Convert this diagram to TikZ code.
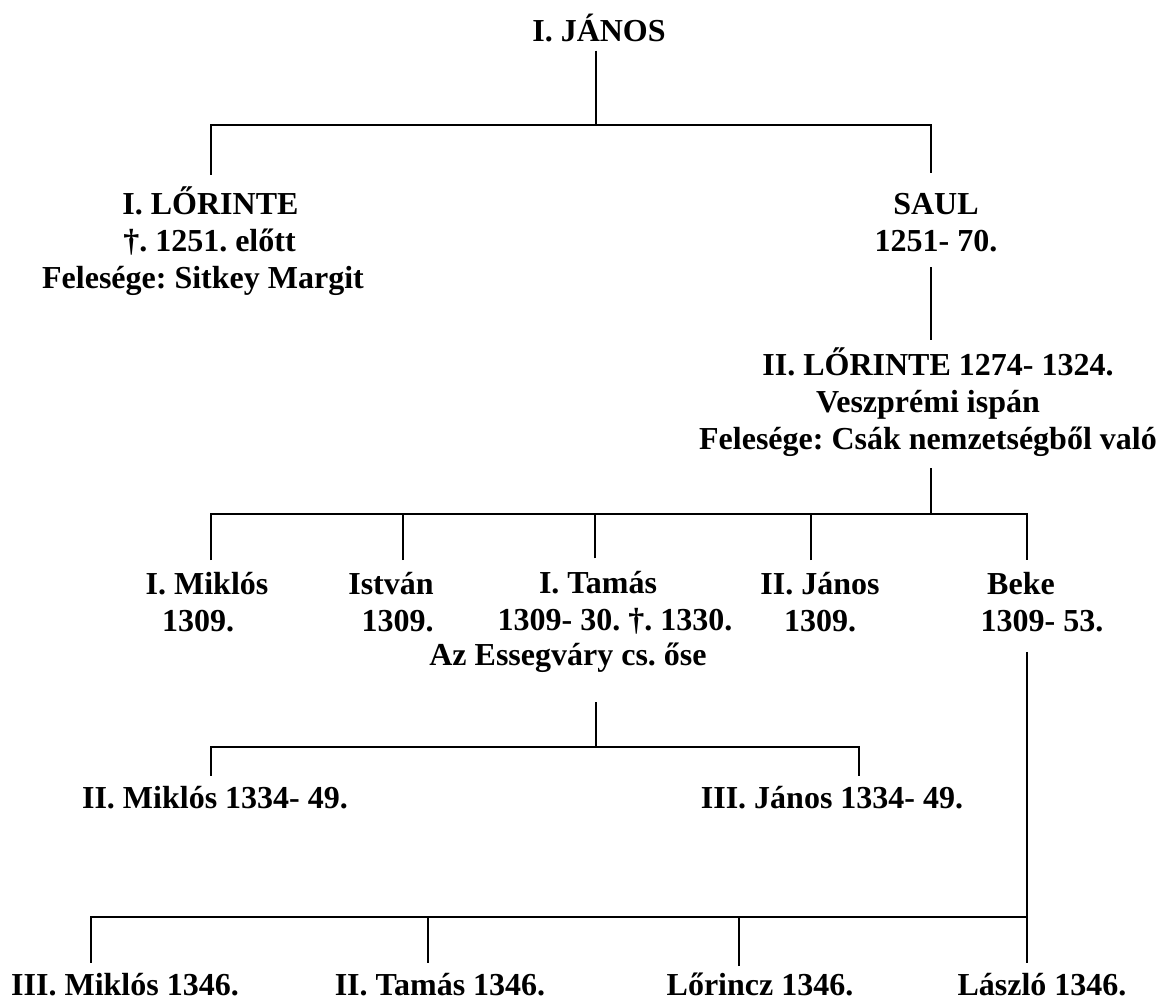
\documentclass[tikz,border=0pt]{standalone}
\usepackage{fontspec}
\setmainfont{Liberation Serif}
\usetikzlibrary{positioning}
\frenchspacing

\begin{document}
\begin{tikzpicture}[x=1pt,y=-1pt,
  person/.style={font=\fontsize{32}{36.8}\selectfont\bfseries, align=center, inner sep=0pt},
  line/.style={line width=1.4pt}]
  \useasboundingbox (0,0) rectangle (1160,1003);
  % rails of the tree
  \coordinate (r1) at (596,125);
  \coordinate (r2) at (595,514);
  \coordinate (r3) at (596,747);
  \coordinate (r4) at (596,917);

  \node[person, anchor=base] (janos1) at (599,42) {I. JÁNOS};
  \node[person] (lor1) at (203,241) {\hspace*{15pt}I. LŐRINTE\\\hspace*{13pt}†. 1251. előtt\\Felesége: Sitkey Margit};
  \node[person] (saul) at (936,223) {SAUL\\1251- 70.};
  \node[person] (lor2) at (928,402) {\hspace*{20pt}II. LŐRINTE 1274- 1324.\\Veszprémi ispán\\Felesége: Csák nemzetségből való};

  \node[person] (mik1) at (207,602) {I. Miklós\\1309.\hspace*{18pt}};
  \node[person, align=right] (istvan) at (391,602) {István\\1309.};
  \node[person] (tamas1) at (615,603) {I. Tamás\hspace*{34pt}\\1309- 30. †. 1330.};
  \node[person, anchor=base] (ose) at (568,665) {Az Essegváry cs. őse};
  \node[person] (janos2) at (820,602) {II. János\\1309.};
  \node[person] (beke) at (1042,602) {Beke\hspace*{42pt}\\1309- 53.};

  \node[person, anchor=base] (mik2) at (215,808) {II. Miklós 1334- 49.};
  \node[person, anchor=base] (janos3) at (832,808) {III. János 1334- 49.};

  \node[person, anchor=base] (mik3) at (125,995) {III. Miklós 1346.};
  \node[person, anchor=base] (tamas2) at (440,995) {II. Tamás 1346.};
  \node[person, anchor=base] (lorincz) at (760,995) {Lőrincz 1346.};
  \node[person, anchor=base] (laszlo) at (1042,995) {László 1346.};

  % I. János and his sons
  \draw[line, shorten <=8pt] ([xshift=-3pt]janos1.south) -- ([xshift=-3pt]janos1.south |- r1);
  \draw[line, shorten <=12pt, shorten >=21pt] ([xshift=8pt]lor1.north) |- (r1) -| ([xshift=-5pt]saul.north);
  \draw[line, shorten <=15pt, shorten >=8pt] ([xshift=-5pt]saul.south) -- ([xshift=-5pt]saul.south |- lor2.north);

  % II. Lőrinte and his sons
  \draw[line, shorten <=12pt] ([xshift=3pt]lor2.south) -- ([xshift=3pt]lor2.south |- r2);
  \draw[line, shorten <=12pt, shorten >=12pt] ([xshift=4pt]mik1.north) |- (r2) -| ([xshift=-15pt]beke.north);
  \draw[line, shorten <=12pt] ([xshift=12pt]istvan.north) -- ([xshift=12pt]istvan.north |- r2);
  \draw[line, shorten <=13pt] (tamas1.north -| r2) -- (r2);
  \draw[line, shorten <=12pt] ([xshift=-9pt]janos2.north) -- ([xshift=-9pt]janos2.north |- r2);

  % I. Tamás and his sons
  \draw[line, shorten <=30pt, shorten >=10pt] (ose.south -| r3) |- (r3) -| ([xshift=-4pt]mik2.north);
  \draw[line, shorten >=10pt] (r3) -| ([xshift=27pt]janos3.north);

  % Beke and his sons
  \draw[line, shorten <=20pt] ([xshift=-15pt]beke.south) -- ([xshift=-15pt]beke.south |- r4);
  \draw[line, shorten <=10pt, shorten >=10pt] ([xshift=-34pt]mik3.north) |- (r4) -| ([xshift=-15pt]laszlo.north);
  \draw[line, shorten <=10pt] ([xshift=-12pt]tamas2.north) -- ([xshift=-12pt]tamas2.north |- r4);
  \draw[line, shorten <=6pt] ([xshift=-21pt]lorincz.north) -- ([xshift=-21pt]lorincz.north |- r4);
\end{tikzpicture}
\end{document}
